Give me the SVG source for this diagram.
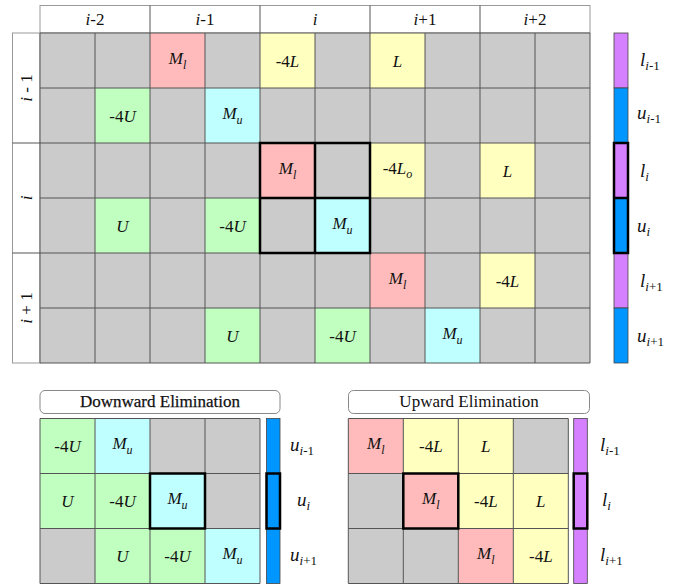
<svg xmlns="http://www.w3.org/2000/svg" width="679" height="585" viewBox="0 0 679 585" font-family="'Liberation Serif', 'Times New Roman', serif">
<style>
text{font-family:'Liberation Serif','Times New Roman',serif;font-size:17px;fill:#111;text-anchor:middle}
.it{font-style:italic}
.sub{font-size:12px}
.lab{text-anchor:start;font-size:19px}
.lab .sub{font-size:13px}
.gray{fill:#CBCBCB}
.pink{fill:#FFBBBB}
.yel{fill:#FFFFC0}
.grn{fill:#C0FFC0}
.cyan{fill:#C0FFFF}
.pur{fill:#D580FF;stroke:#444;stroke-width:0.8}
.blu{fill:#0096FF;stroke:#444;stroke-width:0.8}
.grid{fill:none;stroke:#555;stroke-width:1}
.thick{fill:none;stroke:#000;stroke-width:2.5}
.hdr{fill:#fff;stroke:#999;stroke-width:1}
.title{fill:#fff;stroke:#888;stroke-width:1}
</style>

<!-- ===== Top matrix ===== -->
<g id="header">
  <rect class="hdr" x="40" y="5.5" width="550" height="27.5"/>
  <path d="M150 5.5V33M260 5.5V33M370 5.5V33M480 5.5V33" stroke="#555" stroke-width="1"/>
  <text x="95" y="25"><tspan class="it">i</tspan>-2</text>
  <text x="205" y="25"><tspan class="it">i</tspan>-1</text>
  <text x="315" y="25" class="it">i</text>
  <text x="425" y="25"><tspan class="it">i</tspan>+1</text>
  <text x="535" y="25"><tspan class="it">i</tspan>+2</text>
</g>

<g id="rowlabels">
  <rect x="12.5" y="33" width="27.5" height="330" fill="#fff" stroke="#999"/>
  <path d="M12.5 143H40M12.5 253H40" stroke="#555"/>
  <text transform="translate(32,88) rotate(-90)"><tspan class="it">i</tspan> - 1</text>
  <text transform="translate(32,198) rotate(-90)" class="it">i</text>
  <text transform="translate(32,308) rotate(-90)"><tspan class="it">i</tspan> + 1</text>
</g>

<g id="matrix">
  <rect class="gray" x="40" y="33" width="550" height="330"/>
  <g id="m-r0c2"><rect class="pink" x="150" y="33" width="55" height="55"/><text x="177.5" y="63.5" class="it">M<tspan class="sub" dy="5">l</tspan></text></g>
  <g id="m-r0c4"><rect class="yel" x="260" y="33" width="55" height="55"/><text x="287.5" y="66.5">-4<tspan class="it">L</tspan></text></g>
  <g id="m-r0c6"><rect class="yel" x="370" y="33" width="55" height="55"/><text x="397.5" y="66.5" class="it">L</text></g>
  <g id="m-r1c1"><rect class="grn" x="95" y="88" width="55" height="55"/><text x="122.5" y="121.5">-4<tspan class="it">U</tspan></text></g>
  <g id="m-r1c3"><rect class="cyan" x="205" y="88" width="55" height="55"/><text x="232.5" y="118.5" class="it">M<tspan class="sub" dy="5">u</tspan></text></g>
  <g id="m-r2c4"><rect class="pink" x="260" y="143" width="55" height="55"/><text x="287.5" y="173.5" class="it">M<tspan class="sub" dy="5">l</tspan></text></g>
  <g id="m-r2c6"><rect class="yel" x="370" y="143" width="55" height="55"/><text x="397.5" y="174">-4<tspan class="it">L</tspan><tspan class="sub it" dy="4">o</tspan></text></g>
  <g id="m-r2c8"><rect class="yel" x="480" y="143" width="55" height="55"/><text x="507.5" y="176.5" class="it">L</text></g>
  <g id="m-r3c1"><rect class="grn" x="95" y="198" width="55" height="55"/><text x="122.5" y="231.5" class="it">U</text></g>
  <g id="m-r3c3"><rect class="grn" x="205" y="198" width="55" height="55"/><text x="232.5" y="231.5">-4<tspan class="it">U</tspan></text></g>
  <g id="m-r3c5"><rect class="cyan" x="315" y="198" width="55" height="55"/><text x="342.5" y="228.5" class="it">M<tspan class="sub" dy="5">u</tspan></text></g>
  <g id="m-r4c6"><rect class="pink" x="370" y="253" width="55" height="55"/><text x="397.5" y="283.5" class="it">M<tspan class="sub" dy="5">l</tspan></text></g>
  <g id="m-r4c8"><rect class="yel" x="480" y="253" width="55" height="55"/><text x="507.5" y="286.5">-4<tspan class="it">L</tspan></text></g>
  <g id="m-r5c3"><rect class="grn" x="205" y="308" width="55" height="55"/><text x="232.5" y="341.5" class="it">U</text></g>
  <g id="m-r5c5"><rect class="grn" x="315" y="308" width="55" height="55"/><text x="342.5" y="341.5">-4<tspan class="it">U</tspan></text></g>
  <g id="m-r5c7"><rect class="cyan" x="425" y="308" width="55" height="55"/><text x="452.5" y="338.5" class="it">M<tspan class="sub" dy="5">u</tspan></text></g>
  <path class="grid" d="M40 33H590V363H40ZM95 33V363M150 33V363M205 33V363M260 33V363M315 33V363M370 33V363M425 33V363M480 33V363M535 33V363M40 88H590M40 143H590M40 198H590M40 253H590M40 308H590"/>
  <path class="thick" d="M260 143H370V253H260ZM315 143V253M260 198H370"/>
</g>

<g id="vector-top">
  <rect class="pur" x="614" y="33" width="14" height="55"/>
  <rect class="blu" x="614" y="88" width="14" height="55"/>
  <rect class="pur" x="614" y="143" width="14" height="55"/>
  <rect class="blu" x="614" y="198" width="14" height="55"/>
  <rect class="pur" x="614" y="253" width="14" height="55"/>
  <rect class="blu" x="614" y="308" width="14" height="55"/>
  <path class="thick" d="M614 143H628V253H614ZM614 198H628"/>
  <text class="lab it" x="640" y="66">l<tspan class="sub" dy="4">i</tspan><tspan class="sub" font-style="normal">-1</tspan></text>
  <text class="lab it" x="637" y="119">u<tspan class="sub" dy="4">i</tspan><tspan class="sub" font-style="normal">-1</tspan></text>
  <text class="lab it" x="640" y="176.5">l<tspan class="sub" dy="4">i</tspan></text>
  <text class="lab it" x="637" y="231.5">u<tspan class="sub" dy="4">i</tspan></text>
  <text class="lab it" x="640" y="286.5">l<tspan class="sub" dy="4">i</tspan><tspan class="sub" font-style="normal">+1</tspan></text>
  <text class="lab it" x="637" y="341.5">u<tspan class="sub" dy="4">i</tspan><tspan class="sub" font-style="normal">+1</tspan></text>
</g>

<!-- ===== Downward Elimination ===== -->
<g id="down-title">
  <rect class="title" x="40" y="390.5" width="240" height="23" rx="5"/>
  <text x="160" y="407" stroke="#111" stroke-width="0.25">Downward Elimination</text>
</g>
<g id="down-matrix">
  <rect class="gray" x="40" y="418.5" width="220" height="165"/>
  <g id="d-r0c0"><rect class="grn" x="40" y="418.5" width="55" height="55"/><text x="67.5" y="452">-4<tspan class="it">U</tspan></text></g>
  <g id="d-r0c1"><rect class="cyan" x="95" y="418.5" width="55" height="55"/><text x="122.5" y="449" class="it">M<tspan class="sub" dy="5">u</tspan></text></g>
  <g id="d-r1c0"><rect class="grn" x="40" y="473.5" width="55" height="55"/><text x="67.5" y="507" class="it">U</text></g>
  <g id="d-r1c1"><rect class="grn" x="95" y="473.5" width="55" height="55"/><text x="122.5" y="507">-4<tspan class="it">U</tspan></text></g>
  <g id="d-r1c2"><rect class="cyan" x="150" y="473.5" width="55" height="55"/><text x="177.5" y="504" class="it">M<tspan class="sub" dy="5">u</tspan></text></g>
  <g id="d-r2c1"><rect class="grn" x="95" y="528.5" width="55" height="55"/><text x="122.5" y="562" class="it">U</text></g>
  <g id="d-r2c2"><rect class="grn" x="150" y="528.5" width="55" height="55"/><text x="177.5" y="562">-4<tspan class="it">U</tspan></text></g>
  <g id="d-r2c3"><rect class="cyan" x="205" y="528.5" width="55" height="55"/><text x="232.5" y="559" class="it">M<tspan class="sub" dy="5">u</tspan></text></g>
  <path class="grid" d="M40 418.5H260V583.5H40ZM95 418.5V583.5M150 418.5V583.5M205 418.5V583.5M40 473.5H260M40 528.5H260"/>
  <rect class="thick" x="150" y="473.5" width="55" height="55"/>
</g>
<g id="down-vector">
  <rect class="blu" x="266.5" y="418.5" width="13.5" height="165"/>
  <rect class="thick" x="266.5" y="473.5" width="13.5" height="55"/>
  <text class="lab it" x="290" y="451">u<tspan class="sub" dy="4">i</tspan><tspan class="sub" font-style="normal">-1</tspan></text>
  <text class="lab it" x="297" y="506">u<tspan class="sub" dy="4">i</tspan></text>
  <text class="lab it" x="290" y="561">u<tspan class="sub" dy="4">i</tspan><tspan class="sub" font-style="normal">+1</tspan></text>
</g>

<!-- ===== Upward Elimination ===== -->
<g id="up-title">
  <rect class="title" x="348.5" y="390.5" width="241" height="23" rx="5"/>
  <text x="469" y="407">Upward Elimination</text>
</g>
<g id="up-matrix">
  <rect class="gray" x="348.3" y="418.5" width="220" height="165"/>
  <g id="u-r0c0"><rect class="pink" x="348.3" y="418.5" width="55" height="55"/><text x="375.8" y="449" class="it">M<tspan class="sub" dy="5">l</tspan></text></g>
  <g id="u-r0c1"><rect class="yel" x="403.3" y="418.5" width="55" height="55"/><text x="430.8" y="452">-4<tspan class="it">L</tspan></text></g>
  <g id="u-r0c2"><rect class="yel" x="458.3" y="418.5" width="55" height="55"/><text x="485.8" y="452" class="it">L</text></g>
  <g id="u-r1c1"><rect class="pink" x="403.3" y="473.5" width="55" height="55"/><text x="430.8" y="504" class="it">M<tspan class="sub" dy="5">l</tspan></text></g>
  <g id="u-r1c2"><rect class="yel" x="458.3" y="473.5" width="55" height="55"/><text x="485.8" y="507">-4<tspan class="it">L</tspan></text></g>
  <g id="u-r1c3"><rect class="yel" x="513.3" y="473.5" width="55" height="55"/><text x="540.8" y="507" class="it">L</text></g>
  <g id="u-r2c2"><rect class="pink" x="458.3" y="528.5" width="55" height="55"/><text x="485.8" y="559" class="it">M<tspan class="sub" dy="5">l</tspan></text></g>
  <g id="u-r2c3"><rect class="yel" x="513.3" y="528.5" width="55" height="55"/><text x="540.8" y="562">-4<tspan class="it">L</tspan></text></g>
  <path class="grid" d="M348.3 418.5H568.3V583.5H348.3ZM403.3 418.5V583.5M458.3 418.5V583.5M513.3 418.5V583.5M348.3 473.5H568.3M348.3 528.5H568.3"/>
  <rect class="thick" x="403.3" y="473.5" width="55" height="55"/>
</g>
<g id="up-vector">
  <rect class="pur" x="573.7" y="418.5" width="13.6" height="165"/>
  <rect class="thick" x="573.7" y="473.5" width="13.6" height="55"/>
  <text class="lab it" x="600" y="451">l<tspan class="sub" dy="4">i</tspan><tspan class="sub" font-style="normal">-1</tspan></text>
  <text class="lab it" x="602" y="506">l<tspan class="sub" dy="4">i</tspan></text>
  <text class="lab it" x="600" y="561">l<tspan class="sub" dy="4">i</tspan><tspan class="sub" font-style="normal">+1</tspan></text>
</g>
</svg>
